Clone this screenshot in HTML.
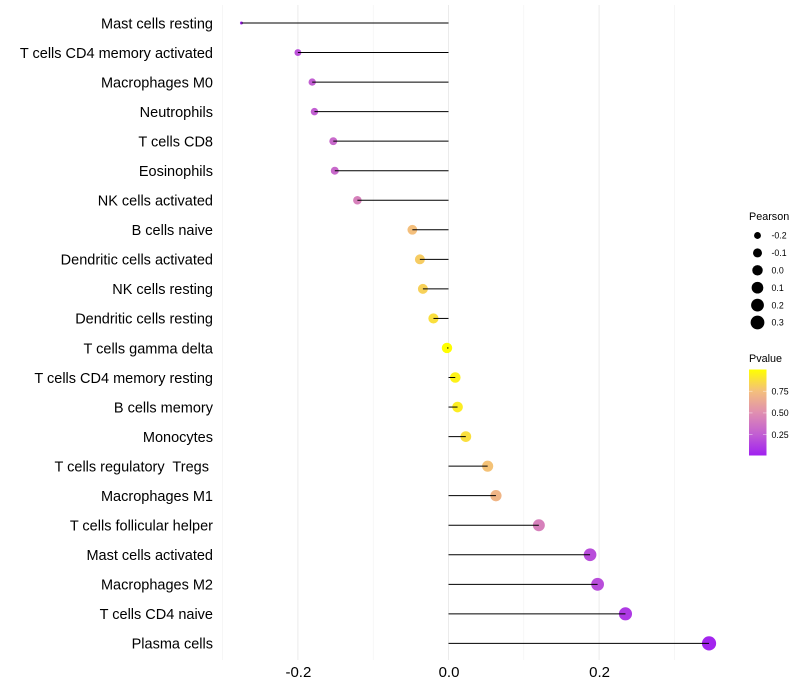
<!DOCTYPE html>
<html>
<head>
<meta charset="utf-8">
<style>
html,body{margin:0;padding:0;background:#fff;width:800px;height:700px;overflow:hidden}
svg{display:block;font-family:"Liberation Sans",Arial,sans-serif}
</style>
</head>
<body>
<svg id="chart" width="800" height="700" viewBox="0 0 800 700" xmlns="http://www.w3.org/2000/svg">
  <defs>
    <linearGradient id="pvalue-gradient" x1="0" y1="1" x2="0" y2="0">
      <stop offset="0" stop-color="#a020f0"/>
      <stop offset="0.25" stop-color="#c25fd2"/>
      <stop offset="0.5" stop-color="#e08fb0"/>
      <stop offset="0.75" stop-color="#f4bf7c"/>
      <stop offset="1" stop-color="#ffff00"/>
    </linearGradient>
  </defs>
  <g id="grid"></g>
  <g id="points"></g>
  <g id="segments"></g>
  <g id="ylabels"></g>
  <g id="xlabels"></g>
  <g id="size-legend">
    <text x="749" y="220" font-size="10.8" fill="#000">Pearson</text>
  </g>
  <g id="color-legend">
    <text x="749" y="362" font-size="10.8" fill="#000">Pvalue</text>
    <rect x="749" y="369.5" width="17.5" height="86" fill="url(#pvalue-gradient)"/>
  </g>
</svg>
<script>
var categories = ["Mast cells resting","T cells CD4 memory activated","Macrophages M0","Neutrophils","T cells CD8","Eosinophils","NK cells activated","B cells naive","Dendritic cells activated","NK cells resting","Dendritic cells resting","T cells gamma delta","T cells CD4 memory resting","B cells memory","Monocytes","T cells regulatory  Tregs ","Macrophages M1","T cells follicular helper","Mast cells activated","Macrophages M2","T cells CD4 naive","Plasma cells"];
var pearson = [-0.275,-0.2,-0.181,-0.178,-0.153,-0.151,-0.121,-0.048,-0.038,-0.034,-0.02,-0.002,0.009,0.012,0.023,0.052,0.063,0.12,0.188,0.198,0.235,0.346];
var pvalues = [0.02,0.2,0.25,0.25,0.3,0.3,0.42,0.75,0.8,0.82,0.875,1,0.95,0.93,0.875,0.76,0.7,0.42,0.18,0.18,0.1,0.02];
var xMajorTicks = [-0.2,0,0.2];
var xMinorTicks = [-0.3,-0.1,0.1,0.3];
var sizeLegendValues = [-0.2,-0.1,0,0.1,0.2,0.3];
var colorLegendTicks = [0.25,0.5,0.75];

var SVGNS = "http://www.w3.org/2000/svg";
function x(v){ return 448.5 + v * 753; }
function y(i){ return 23 + i * (620.4 / (categories.length - 1)); }
function legendY(i){ return 235.5 + i * 17.4; }
function barY(p){ return 455.5 - (p - 0.01) / 0.99 * 86; }
function radius(v){
  var lo = Math.min.apply(null, pearson), hi = Math.max.apply(null, pearson);
  var t = Math.max(0, (v - lo) / (hi - lo));
  return 1.5 + 5.6 * Math.sqrt(t);
}
function color(p){
  var ramp = [[160,32,240],[194,95,210],[224,143,176],[244,191,124],[255,255,0]];
  var s = Math.min(3.999, Math.max(0, p) * 4), k = Math.floor(s), f = s - k;
  var c = ramp[k].map(function(a, j){ return Math.round(a + (ramp[k + 1][j] - a) * f); });
  return "rgb(" + c.join(",") + ")";
}
function make(tag, parent, attrs, text){
  var el = document.createElementNS(SVGNS, tag);
  for (var key in attrs) el.setAttribute(key, attrs[key]);
  if (text !== undefined) { el.textContent = text; }
  document.getElementById(parent).appendChild(el);
  return el;
}

xMinorTicks.forEach(function(t){
  var el = make("line", "grid", {x1:x(t), x2:x(t), y1:5, y2:660, stroke:"#f0f0f0", "stroke-width":0.6});
  
  
});
xMajorTicks.forEach(function(t){
  var el = make("line", "grid", {x1:x(t), x2:x(t), y1:5, y2:660, stroke:"#ebebeb", "stroke-width":1});
  
  
  var lab = make("text", "xlabels", {x:x(t) + 0.5, y:677, "text-anchor":"middle", "font-size":15, fill:"#000"}, t.toFixed(1));
  
  
});

categories.forEach(function(name, i){
  var lab = make("text", "ylabels", {x:213, y:y(i) + 5.3, "text-anchor":"end", "font-size":14.5, fill:"#000"}, name);
  lab.style.whiteSpace = "pre";
  
  
  var pt = make("circle", "points", {cx:x(pearson[i]), cy:y(i), r:radius(pearson[i]), fill:color(pvalues[i])});
  
  
  var seg = make("line", "segments", {x1:x(0), x2:x(pearson[i]), y1:y(i), y2:y(i), stroke:"#000", "stroke-width":1});
  
  
});

sizeLegendValues.forEach(function(v, i){
  var key = make("circle", "size-legend", {cx:757.5, cy:legendY(i), r:radius(v), fill:"#000"});
  
  
  var lab = make("text", "size-legend", {x:771.5, y:legendY(i) + 3.2, "font-size":8.8, fill:"#000"}, v.toFixed(1));
  
  
});

colorLegendTicks.forEach(function(p){
  var t1 = make("line", "color-legend", {x1:749, x2:752.5, y1:barY(p), y2:barY(p), stroke:"#fff", "stroke-opacity":0.7, "stroke-width":0.6});
  
  
  var t2 = make("line", "color-legend", {x1:763, x2:766.5, y1:barY(p), y2:barY(p), stroke:"#fff", "stroke-opacity":0.7, "stroke-width":0.6});
  
  
  var lab = make("text", "color-legend", {x:771.5, y:barY(p) + 3.2, "font-size":8.8, fill:"#000"}, p.toFixed(2));
  
  
});
</script>
</body>
</html>
